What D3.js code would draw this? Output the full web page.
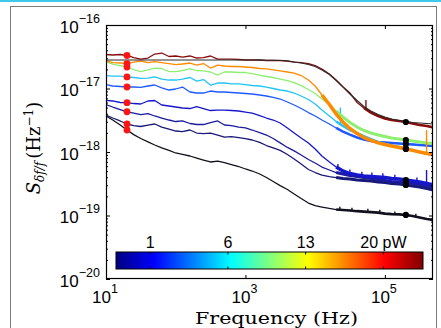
<!DOCTYPE html>
<html>
<head>
<meta charset="utf-8">
<script src="https://cdn.jsdelivr.net/npm/d3@7"></script>
<style>
  body { margin: 0; background: #fff; }
  svg { display: block; }
</style>
</head>
<body>
<svg id="chart" width="441" height="328"></svg>
<script>
// ---------------------------------------------------------------------------
// Data: frequency-noise spectra S_{δf/f}(f) for increasing readout power.
// All spectra share one frequency grid (Hz); values are in units of 1e-18 /Hz.
// ---------------------------------------------------------------------------
const UNIT = 1e-18;

const frequency = [
  10, 12.5, 16, 20, 25, 31.5, 40, 50, 63, 80,
  100, 125, 160, 200, 250, 315, 400, 500, 630, 800,
  1e3, 1.25e3, 1.6e3, 2e3, 2.5e3, 3.15e3, 4e3, 5e3, 6.3e3, 8e3,
  1e4, 1.25e4, 1.6e4, 2e4, 2.5e4, 3.15e4, 4e4, 5e4, 6.3e4, 8e4,
  1e5, 1.25e5, 1.6e5, 2e5, 2.5e5, 3.15e5, 4e5, 5e5
];

// lowest power
const spectrum1 = [
  3.69, 3.19, 2.66, 2.22, 1.88, 1.63, 1.44, 1.29, 1.16, 1.06,
  0.965, 0.914, 0.865, 0.804, 0.748, 0.696, 0.721, 0.683, 0.635, 0.591,
  0.540, 0.502, 0.450, 0.396, 0.343, 0.296, 0.257, 0.218, 0.185, 0.157,
  0.143, 0.136, 0.129, 0.124, 0.122, 0.120, 0.117, 0.115, 0.113, 0.111,
  0.107, 0.105, 0.104, 0.102, 0.098, 0.093, 0.088, 0.085
];
const spectrum2 = [
  3.82, 3.43, 3.08, 2.76, 2.61, 2.52, 2.66, 2.76, 2.47, 2.30,
  2.14, 2.10, 2.22, 1.99, 1.95, 1.99, 1.85, 1.72, 1.75, 1.69,
  1.63, 1.545, 1.415, 1.265, 1.16, 1.06, 0.914, 0.776, 0.647, 0.530,
  0.475, 0.434, 0.411, 0.396, 0.382, 0.375, 0.362, 0.355, 0.349, 0.337,
  0.331, 0.319, 0.313, 0.302, 0.291, 0.281, 0.266, 0.252
];
const spectrum3 = [
  5.60, 5.11, 4.66, 4.30, 4.11, 3.89, 4.03, 3.69, 3.43, 3.19,
  3.02, 3.08, 2.81, 2.71, 2.71, 2.91, 3.08, 2.66, 2.61, 2.47,
  2.39, 2.22, 2.02, 1.85, 1.63, 1.39, 1.18, 1.04, 0.897, 0.762,
  0.671, 0.580, 0.521, 0.475, 0.450, 0.427, 0.411, 0.396, 0.382, 0.368,
  0.355, 0.343, 0.337, 0.331, 0.319, 0.307, 0.291, 0.276
];
const spectrum4 = [
  6.52, 6.36, 6.02, 5.98, 5.80, 5.70, 6.36, 6.47, 5.50, 5.30,
  5.11, 4.93, 4.84, 5.17, 4.84, 4.50, 4.58, 4.58, 4.50, 4.42,
  4.26, 4.11, 3.75, 3.43, 3.19, 2.86, 2.39, 1.99, 1.66, 1.39,
  1.115, 0.865, 0.696, 0.580, 0.502, 0.458, 0.434, 0.419, 0.411, 0.404,
  0.396, 0.382, 0.375, 0.362, 0.349, 0.337, 0.319, 0.302
];
const spectrum5 = [
  11.55, 10.95, 10.75, 10.55, 10.55, 10.4, 10.95, 11.35, 10.2, 9.47,
  9.82, 10.55, 8.81, 8.49, 8.49, 9.13, 8.81, 8.81, 8.65, 8.49,
  8.34, 8.19, 7.90, 7.62, 7.22, 6.83, 6.13, 5.50, 4.84, 4.18,
  3.69, 3.19, 2.76, 2.39, 2.10, 1.88, 1.69, 1.57, 1.49, 1.44,
  1.415, 1.39, 1.365, 1.34, 1.315, 1.29, 1.265, 1.24
];
const spectrum6 = [
  16.0, 15.7, 15.7, 15.2, 14.9, 14.45, 14.6, 15.2, 14.1, 13.6,
  13.6, 14.1, 14.9, 13.1, 13.85, 11.35, 12.2, 12.2, 11.8, 11.8,
  11.55, 11.15, 10.95, 10.55, 10.0, 9.47, 9.13, 8.49, 7.62, 6.71,
  5.70, 4.58, 3.69, 3.02, 2.57, 2.22, 1.99, 1.78, 1.60, 1.44,
  1.34, 1.265, 1.20, 1.135, 1.075, 1.00, 0.95, 0.897
];
const spectrum7 = [
  26.4, 24.3, 23.0, 21.8, 19.9, 18.5, 19.6, 21.0, 20.65, 18.5,
  18.5, 19.2, 20.3, 19.2, 18.9, 18.2, 16.3, 18.2, 18.2, 17.85,
  17.85, 17.2, 16.3, 15.45, 14.9, 14.1, 13.35, 12.4, 11.1, 9.64,
  8.34, 6.83, 5.60, 4.42, 3.56, 2.91, 2.47, 2.18, 1.99, 1.85,
  1.75, 1.66, 1.60, 1.545, 1.49, 1.44, 1.39, 1.365
];
const spectrum8 = [
  27.4, 25.6, 25.2, 24.7, 26.1, 27.1, 25.6, 26.6, 25.6, 24.7,
  23.85, 24.3, 25.2, 23.4, 24.7, 21.0, 23.4, 22.6, 22.2, 22.2,
  21.8, 21.4, 20.65, 20.3, 19.6, 18.9, 18.2, 17.5, 16.0, 13.6,
  10.95, 7.90, 5.60, 3.96, 2.97, 2.35, 1.95, 1.69, 1.52, 1.39,
  1.31, 1.24, 1.18, 1.115, 1.06, 1.00, 0.95, 0.897
];
// highest power
const spectrum9 = [
  34.3, 33.7, 34.3, 33.1, 30.7, 29.1, 30.2, 34.9, 36.2, 31.9,
  32.5, 31.3, 32.5, 30.2, 30.7, 32.5, 29.1, 29.1, 29.1, 28.6,
  28.1, 28.1, 28.1, 27.6, 27.6, 27.6, 27.1, 26.1, 25.6, 24.7,
  23.0, 20.3, 16.9, 13.6, 10.7, 8.49, 6.02, 4.93, 4.18, 3.69,
  3.37, 3.19, 3.08, 2.97, 2.81, 2.66, 2.57, 2.43
];
// roll-off fit to the highest-power spectrum
const fitCurve = [
  28.1, 28.1, 28.1, 28.1, 28.1, 28.1, 28.1, 28.1, 28.1, 28.1,
  28.1, 28.1, 28.1, 28.1, 28.1, 28.1, 28.1, 28.1, 28.1, 28.1,
  28.1, 28.1, 28.0, 27.9, 27.8, 27.6, 27.1, 26.1, 25.2, 23.85,
  22.2, 19.6, 16.6, 13.35, 10.55, 8.19, 6.47, 5.20, 4.42, 3.89,
  3.56, 3.31, 3.13, 3.02, 2.91, 2.86, 2.81, 2.76
];

// narrow pickup lines riding on individual spectra (series index, Hz, peak)
const spikeSeries = [8, 5, 7, 3, 3, 3, 3, 3, 3, 3, 3, 0, 0, 0, 0, 0, 0];
const spikeFreq   = [5.35e4, 2.3e4, 3.96e5, 3.96e5, 2.12e4, 3.15e4, 4.68e4, 6.51e4,
                     9.35e4, 1.39e5, 2.88e5, 2.26e4, 3.37e4, 5.7e4, 8.47e4, 1.39e5, 2.78e5];
const spikePeak   = [6.59, 5.02, 2.22, 0.521, 0.647, 0.53, 0.487, 0.475,
                     0.461, 0.44, 0.395, 0.137, 0.133, 0.128, 0.123, 0.116, 0.107];

// marker frequencies: low-frequency level (red) and white-noise level (black)
const lowMarkerFreq = 20;
const highMarkerFreq = 2e5;

// axis / colour bar labels
const yTickExponents = [-20, -19, -18, -17, -16];
const xTickExponents = [1, 3, 5];
const powerLabels = ["1", "6", "13", "20 pW"];

// ---------------------------------------------------------------------------
// Styles
// ---------------------------------------------------------------------------
const spectra = [spectrum1, spectrum2, spectrum3, spectrum4, spectrum5,
                 spectrum6, spectrum7, spectrum8, spectrum9];
const lineColors = ["#12121f", "#191978", "#1b1b9e", "#1616cc", "#1f5aff",
                    "#22c4f5", "#8eee70", "#ff8a00", "#880c0c"];
// noisy white-noise floor: drawn as a wider band above this frequency
const bandFrom  = [2e4, 2e4, 2e4, 2e4, 2e4, 2e4, 2e4, 1.25e4, 5e4];
const bandWidth = [2.6, 3, 3, 3.5, 2.5, 2.5, 3, 3.5, 2.6];

const plot = { left: 106, top: 25, right: 433, bottom: 279 };
const bar = { left: 116, right: 423, top: 252, bottom: 269 };
const sansFont = '"Liberation Sans", Arial, Helvetica, sans-serif';
const serifFont = '"DejaVu Serif", "Liberation Serif", serif';

// ---------------------------------------------------------------------------
const svg = d3.select("#chart");

const x = d3.scaleLog().domain([10, 4.9e5]).range([plot.left, plot.right]);
const y = d3.scaleLog().domain([1e-20, 1e-16]).range([plot.bottom, plot.top]);

// window chrome: cyan rule on top, grey figure frame
svg.append("rect").attr("x", 0).attr("y", 0).attr("width", 441).attr("height", 2)
  .attr("fill", "#3ec9ea");
svg.append("rect").attr("x", 10.5).attr("y", 6.5).attr("width", 426).attr("height", 340)
  .attr("fill", "none").attr("stroke", "#7a7a7a").attr("stroke-width", 1);

svg.append("defs").append("clipPath").attr("id", "plot-clip")
  .append("rect")
  .attr("x", plot.left).attr("y", plot.top)
  .attr("width", plot.right - plot.left).attr("height", plot.bottom - plot.top);

const rows = s => frequency.map((f, i) => ({ f, v: s[i] * UNIT }));
const line = d3.line().x(d => x(d.f)).y(d => y(d.v));

// log-log interpolation along a spectrum
function valueAt(s, f) {
  const lf = Math.log10(f);
  for (let i = 0; i < frequency.length - 1; i++) {
    const a = Math.log10(frequency[i]), b = Math.log10(frequency[i + 1]);
    if (lf >= a && lf <= b) {
      const t = (lf - a) / (b - a);
      return Math.pow(10, Math.log10(s[i]) * (1 - t) + Math.log10(s[i + 1]) * t) * UNIT;
    }
  }
  return s[s.length - 1] * UNIT;
}

const curves = svg.append("g").attr("clip-path", "url(#plot-clip)");

spectra.forEach((s, k) => {
  const data = rows(s);
  curves.append("path").datum(data)
    .attr("d", line).attr("fill", "none")
    .attr("stroke", lineColors[k]).attr("stroke-width", 1.3)
    .attr("stroke-linejoin", "round");
  curves.append("path").datum(data.filter(d => d.f >= bandFrom[k]))
    .attr("d", line).attr("fill", "none")
    .attr("stroke", lineColors[k]).attr("stroke-width", bandWidth[k])
    .attr("stroke-linejoin", "round");
  // pickup spikes of this spectrum
  spikeSeries.forEach((si, j) => {
    if (si !== k) return;
    curves.append("line")
      .attr("x1", x(spikeFreq[j])).attr("x2", x(spikeFreq[j]))
      .attr("y1", y(valueAt(s, spikeFreq[j]))).attr("y2", y(spikePeak[j] * UNIT))
      .attr("stroke", lineColors[k]).attr("stroke-width", 1.4);
  });
});

curves.append("path").datum(rows(fitCurve))
  .attr("d", line).attr("fill", "none")
  .attr("stroke", "#2a2a2a").attr("stroke-width", 1.1);

// level markers
const markers = svg.append("g");
markers.selectAll("circle.low").data(spectra).join("circle")
  .attr("class", "low")
  .attr("cx", x(lowMarkerFreq)).attr("cy", s => y(valueAt(s, lowMarkerFreq)))
  .attr("r", 3.4).attr("fill", "#ff1414");
markers.selectAll("circle.high").data(spectra).join("circle")
  .attr("class", "high")
  .attr("cx", x(highMarkerFreq)).attr("cy", s => y(valueAt(s, highMarkerFreq)))
  .attr("r", 3.1).attr("fill", "#000");

// ---------------------------------------------------------------------------
// Axes box and ticks (ticks point inward)
// ---------------------------------------------------------------------------
const yMajor = yTickExponents.map(e => Math.pow(10, e));
const yMinor = [];
yTickExponents.slice(0, -1).forEach(e => {
  for (let m = 2; m <= 9; m++) yMinor.push(m * Math.pow(10, e));
});
const xMajor = xTickExponents.map(e => Math.pow(10, e));

const axes = svg.append("g").attr("stroke", "#000").attr("stroke-width", 1);
function tickAxis(axis, pos, values, size) {
  axes.append("g").attr("transform", pos)
    .call(axis.tickValues(values).tickSize(size).tickFormat(""))
    .call(g => g.select(".domain").remove())
    .call(g => g.selectAll("line").attr("stroke", "#000"));
}
tickAxis(d3.axisLeft(y), `translate(${plot.left},0)`, yMajor, -4);
tickAxis(d3.axisLeft(y), `translate(${plot.left},0)`, yMinor, -2);
tickAxis(d3.axisRight(y), `translate(${plot.right},0)`, yMajor, -4);
tickAxis(d3.axisRight(y), `translate(${plot.right},0)`, yMinor, -2);
tickAxis(d3.axisBottom(x), `translate(0,${plot.bottom})`, xMajor, -4);
tickAxis(d3.axisTop(x), `translate(0,${plot.top})`, xMajor, -4);

svg.append("rect")
  .attr("x", plot.left + 0.5).attr("y", plot.top + 0.5)
  .attr("width", plot.right - plot.left - 1).attr("height", plot.bottom - plot.top - 1)
  .attr("fill", "none").attr("stroke", "#000").attr("stroke-width", 1.2);

// power-of-ten labels
const yLab = svg.append("g").selectAll("text").data(yTickExponents).join("text")
  .attr("x", plot.left - 6).attr("y", e => y(Math.pow(10, e)) + 7.5)
  .attr("text-anchor", "end")
  .style("font-family", sansFont).style("font-size", "17px").attr("fill", "#000");
yLab.append("tspan").text("10");
yLab.append("tspan").attr("dy", -10).style("font-size", "12.5px")
  .text(e => "\u2212" + Math.abs(e));

const xLab = svg.append("g").selectAll("text").data(xTickExponents).join("text")
  .attr("x", e => x(Math.pow(10, e)) - 1).attr("y", 303)
  .attr("text-anchor", "middle")
  .style("font-family", sansFont).style("font-size", "17px").attr("fill", "#000");
xLab.append("tspan").text("10");
xLab.append("tspan").attr("dy", -10).style("font-size", "12.5px").text(e => e);

// axis titles
svg.append("text")
  .attr("x", 276.5).attr("y", 324).attr("text-anchor", "middle")
  .attr("textLength", 163).attr("lengthAdjust", "spacingAndGlyphs")
  .style("font-family", serifFont).style("font-size", "16px")
  .text("Frequency (Hz)");

const yTitle = svg.append("text")
  .attr("transform", "translate(40,148) rotate(-90)")
  .attr("text-anchor", "middle")
  .style("font-family", serifFont).style("font-size", "18px");
yTitle.append("tspan").style("font-style", "italic").text("S");
yTitle.append("tspan").attr("dy", 4).style("font-size", "12px").style("font-style", "italic")
  .text("δf/f");
yTitle.append("tspan").attr("dy", -4).attr("dx", 3).text("(Hz");
yTitle.append("tspan").attr("dy", -7).style("font-size", "12px").text("\u22121");
yTitle.append("tspan").attr("dy", 7).text(")");

// ---------------------------------------------------------------------------
// Colour bar (jet)
// ---------------------------------------------------------------------------
const jetStops = [
  [0, "#000080"], [0.125, "#0000ff"], [0.375, "#00ffff"],
  [0.625, "#ffff00"], [0.875, "#ff0000"], [1, "#800000"]
];
const grad = svg.select("defs").append("linearGradient").attr("id", "jet")
  .attr("x1", "0%").attr("x2", "100%").attr("y1", "0%").attr("y2", "0%");
grad.selectAll("stop").data(jetStops).join("stop")
  .attr("offset", d => d[0]).attr("stop-color", d => d[1]);

svg.append("rect")
  .attr("x", bar.left).attr("y", bar.top)
  .attr("width", bar.right - bar.left).attr("height", bar.bottom - bar.top)
  .attr("fill", "url(#jet)").attr("stroke", "#000").attr("stroke-width", 1);

const barScale = d3.scaleLinear().domain([-0.44, 3.51]).range([bar.left, bar.right]);
const barTicks = svg.append("g").selectAll("g").data(powerLabels).join("g")
  .attr("transform", (d, i) => `translate(${barScale(i)},0)`);
barTicks.append("line").attr("y1", bar.top).attr("y2", bar.top + 2.5)
  .attr("stroke", "#000");
barTicks.append("line").attr("y1", bar.bottom).attr("y2", bar.bottom - 2.5)
  .attr("stroke", "#000");
barTicks.append("text").attr("y", bar.top - 4).attr("text-anchor", "middle")
  .style("font-family", sansFont).style("font-size", "16px")
  .text(d => d);
</script>
</body>
</html>
